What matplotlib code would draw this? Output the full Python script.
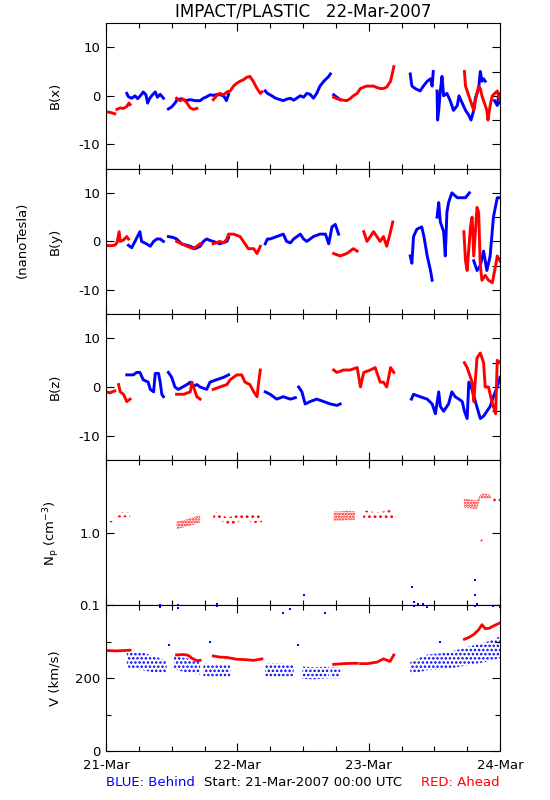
import numpy as np
import matplotlib
matplotlib.use("Agg")
import matplotlib.pyplot as plt
from matplotlib.ticker import FixedLocator, MultipleLocator, NullLocator

plt.rcParams["axes.unicode_minus"] = False
plt.rcParams["mathtext.default"] = "regular"
plt.rcParams["hatch.linewidth"] = 1.2

nan = np.nan
BLUE = "#0000ff"
RED = "#ff0000"

# time axis: hours since 21-Mar-2007 00:00 UTC
day_ticks = [0, 24, 48, 72]
day_labels = ["21-Mar", "22-Mar", "23-Mar", "24-Mar"]

# ---- B(x) ----
bx_blue_t = [3.8, 4.1, 4.7, 5.3, 5.8, 6.5, 6.8, 7.3, 7.6, 8.0, 8.5, 9.0, 9.4, 9.9, 10.5, nan,
             11.4, 12.0, 12.6, 13.0, 13.8, 14.5, 15.4, 16.3, 17.2, 17.8, 18.4, 19.0, 19.6, 20.5, 21.5, 22.0, 22.4, nan,
             29.1, 29.5, 30.0, 31.0, 32.4, 33.0, 33.7, 34.3, 35.5, 36.1, 36.7, 37.3, 37.9, 38.5, 39.1, 39.8, 40.7, 41.0, nan,
             41.6, 42.2, 42.8, nan,
             55.6, 55.9, 56.5, 57.4, 58.0, 58.7, 59.3, 59.6, 59.8, nan,
             60.5, 60.6, 60.8, 61.1, 61.4, 61.7, 62.3, 62.9, 63.5, 64.2, 64.5, 65.1, 65.7, 66.3, 66.7, 67.2, 67.5,
             68.1, 68.4, 68.7, 69.0, 69.3, nan, 71.0, 71.5, 71.8, 72.0]
bx_blue_v = [0.5, -0.2, -0.5, 0.0, -0.6, 0.3, 0.8, 0.2, -1.5, -0.5, 0.2, 0.8, -0.3, 0.3, -0.5, nan,
             -2.7, -2.3, -1.5, -0.8, -0.6, -1.0, -0.8, -1.0, -1.0, -0.5, -0.2, 0.2, 0.1, 0.3, 0.0, -1.0, 0.3, nan,
             1.0, 0.5, 0.2, -0.5, -1.0, -0.7, -0.5, -0.9, 0.0, -0.3, 0.5, 0.3, -0.5, 0.5, 2.0, 3.0, 4.0, 4.5, nan,
             0.2, -0.3, -0.8, nan,
             4.5, 2.0, 1.5, 1.0, 2.0, 3.0, 3.5, 2.0, 5.0, nan,
             1.0, -5.0, -3.0, 1.0, 4.0, 0.0, 0.5, -1.0, -3.0, -2.0, 0.0, -1.5, -3.0, -4.0, -5.0, -3.0, -0.5,
             1.5, 5.0, 3.0, 3.5, 3.0, nan, -1.0, -2.0, 0.5, -1.5]
bx_red_t = [0.0, 0.7, 1.6, nan, 2.0, 2.6, 3.2, 3.8, 4.2, 4.4, nan,
            12.9, 13.5, 14.2, 14.8, 15.4, 16.0, 16.6, nan,
            19.6, 20.2, 20.8, 21.5, 22.1, 22.7, 23.3, 23.9, 24.5, 25.1, 25.7, 26.3, 26.9, 27.6, 28.2, 28.5, nan,
            41.6, 42.2, 42.8, 43.4, 44.0, 44.6, 45.2, 45.9, 46.5, 47.1, 47.7, 48.3, 48.9, 49.5, 50.1, 50.7, 51.3,
            52.0, 52.4, 52.6, nan,
            65.5, 65.7, 66.0, 66.6, 67.2, 67.5, 68.1, 68.4, 68.7, 69.0, 69.6, 69.8, 70.2, 70.6, 71.5, 72.0]
bx_red_v = [-3.3, -3.4, -3.7, nan, -2.8, -2.5, -2.6, -2.2, -1.5, -1.8, nan,
            -0.5, -1.0, -0.7, -1.5, -2.5, -2.8, -2.6, nan,
            -0.8, 0.0, 0.5, 0.2, 0.8, 1.0, 2.0, 2.6, 3.0, 3.3, 3.8, 4.0, 3.0, 1.5, 0.5, 0.8, nan,
            -0.3, -0.6, -0.8, -0.9, -1.0, -0.6, 0.0, 0.5, 1.5, 1.8, 2.0, 2.0, 2.0, 1.7, 1.5, 1.5, 1.8,
            3.0, 5.0, 6.0, nan,
            5.0, 2.0, 1.0, -1.0, -3.0, -1.0, 2.0, 1.5, 0.0, -1.0, -3.0, -5.0, -2.0, 0.0, 1.0, -1.0]

# ---- B(y) ----
by_blue_t = [4.1, 4.7, 5.3, 6.2, 6.5, 7.4, 8.1, 8.7, 9.3, 9.9, 10.5, nan,
             11.4, 12.3, 12.9, 13.8, 15.4, 16.3, 17.2, 17.8, 18.4, 19.0, 19.6, 20.8, 21.5, 22.1, 22.4, nan,
             29.1, 29.5, 30.0, 31.2, 32.4, 33.0, 33.7, 34.3, 35.5, 36.1, 36.7, 37.9, 39.1, 40.1, 40.7, 41.3, 41.9, 42.5, nan,
             55.6, 55.9, 56.2, 56.8, 57.7, 58.1, 58.4, 58.7, 59.3, 59.6, nan,
             60.5, 60.8, 61.1, 61.7, 62.0, 62.3, 62.6, 63.2, 64.2, 65.1, 65.7, 66.4, nan,
             67.2, 67.8, 68.4, 69.0, 69.6, 70.2, 70.8, 71.5, 72.0]
by_blue_v = [-0.8, -1.3, 0.0, 2.0, 0.0, -0.5, -1.0, 0.0, 0.5, 0.5, 0.0, nan,
             1.0, 0.8, 0.5, -0.5, -1.0, -1.5, -1.0, 0.0, 0.5, 0.2, 0.0, -0.5, -0.2, 0.0, 0.8, nan,
             -0.5, 0.5, 0.5, 1.0, 1.5, 0.0, -0.3, 0.5, 1.5, 0.5, 0.0, 1.0, 1.5, 1.5, -0.5, 3.0, 3.5, 1.5, nan,
             -3.0, -4.5, 1.0, 2.5, 3.0, 1.0, -1.0, -3.0, -6.0, -8.0, nan,
             5.0, 8.0, 4.0, 2.0, -3.0, 6.0, 8.0, 10.0, 9.0, 9.0, 9.0, 10.0, nan,
             -4.0, -6.0, -5.0, -2.0, -6.0, -3.0, 5.0, 9.0, 9.0]
by_red_t = [0.0, 0.7, 1.6, 2.0, 2.4, 2.6, 3.2, 3.8, 4.1, nan,
            12.9, 13.8, 14.8, 16.0, 17.2, nan,
            19.6, 20.8, 21.5, 22.1, 22.4, 23.3, 24.5, 25.4, 26.0, 27.0, 27.6, 28.2, nan,
            41.6, 42.8, 44.0, 45.2, 45.9, nan,
            47.1, 47.7, 48.3, 48.9, 50.1, 50.7, 51.3, 52.0, 52.4, nan,
            65.4, 65.7, 66.0, 66.6, 66.9, 67.2, 67.8, 68.1, 68.4, 68.7, 69.3, 69.9, 70.6, 71.2, 71.5, 72.0]
by_red_v = [-0.8, -0.9, -0.8, -0.3, 2.0, 0.0, 0.3, 1.0, 0.5, nan,
            0.0, -0.5, -1.0, -1.5, -0.5, nan,
            -0.5, 0.0, -0.3, 0.5, 1.5, 1.5, 1.0, -0.5, -1.5, -1.5, -2.5, -1.0, nan,
            -2.5, -3.0, -2.5, -1.5, -2.0, nan,
            2.0, 0.0, 1.0, 2.0, 0.0, 1.0, -1.0, 2.0, 4.0, nan,
            2.0, -4.0, -6.0, 3.0, 5.0, -3.0, 7.0, 6.0, -5.0, -8.0, -7.0, -8.0, -8.5, -5.0, -3.0, -4.0]

# ---- B(z) ----
bz_blue_t = [3.8, 5.0, 5.6, 6.2, 6.8, 7.7, 8.1, 8.7, 9.0, 9.6, 9.9, 10.2, 10.5, nan,
             11.4, 12.0, 12.6, 13.2, 14.8, 15.4, 15.7, 16.6, 17.2, 18.4, 19.0, 20.2, 21.5, 22.4, nan,
             29.1, 30.0, 30.6, 31.2, 32.4, 33.7, 34.6, nan,
             35.2, 35.8, 36.4, 37.3, 38.5, 39.8, 41.0, 42.2, 42.8, nan,
             55.8, 56.2, 57.4, 58.7, 59.6, 60.2, 60.8, 61.1, 61.7, 62.6, 63.2, 63.8, 64.5, 65.1, 65.5,
             66.0, 66.3, 66.9, 67.5, 68.4, 69.0, 69.6, 70.2, 70.8, 71.5, 72.0]
bz_blue_v = [2.5, 2.5, 3.0, 3.0, 1.5, 1.0, -0.5, -1.0, 2.8, 2.8, 1.0, -1.5, -2.0, nan,
             3.0, 2.0, 0.0, -0.5, 0.5, 1.0, 0.0, 0.5, 0.0, -0.5, 1.0, 1.5, 2.0, 2.5, nan,
             -1.0, -1.5, -2.0, -2.5, -2.0, -2.5, -2.2, nan,
             0.0, -1.0, -3.5, -3.0, -2.5, -3.0, -3.5, -3.8, -3.5, nan,
             -2.5, -1.5, -2.0, -2.5, -3.5, -5.5, -1.0, -4.0, -5.0, -3.5, -1.0, -2.0, -2.5, -3.0, -5.0,
             -6.5, 1.0, -0.5, -3.0, -6.5, -6.0, -5.0, -4.0, -2.0, 0.0, 2.0]
bz_red_t = [0.0, 0.7, 1.6, nan, 2.3, 2.6, 3.2, 3.8, 4.4, nan,
            12.9, 14.2, 15.4, 15.7, 16.6, 17.2, nan,
            19.6, 20.8, 22.1, 22.7, 23.9, 24.8, 25.4, 26.3, 27.0, 27.6, 27.9, 28.2, nan,
            41.6, 42.2, 43.4, 44.6, 45.9, 46.5, 47.1, 48.3, 49.2, 50.1, 50.7, 51.3, 52.0, 52.6, nan,
            65.5, 66.0, 66.3, 66.9, 67.2, 67.8, 68.4, 69.0, 69.3, 69.9, 70.5, 71.2, 71.5, 72.0]
bz_red_v = [-1.0, -1.2, -0.8, nan, 0.5, -1.0, -1.5, -3.0, -2.5, nan,
            -1.5, -1.5, -1.0, 1.0, -2.0, -2.5, nan,
            -0.5, 0.0, 0.5, 1.5, 2.5, 2.5, 1.0, 0.5, -1.0, -2.0, 1.0, 3.5, nan,
            3.5, 3.0, 3.5, 3.5, 4.0, 0.0, 3.0, 3.5, 4.0, 1.0, 1.0, 0.0, 4.0, 3.0, nan,
            5.0, 4.0, 3.0, 1.0, -3.0, 6.0, 7.0, 5.0, 0.0, 0.0, -3.0, -5.5, 5.5, 5.0]

# ---- proton density (Ahead): dense and sparse scatter clusters as envelopes ----
np_dense_t = [12.9, 14.2, 15.4, 16.6, 17.2, nan,
              41.6, 42.8, 44.0, 45.5, nan,
              65.4, 66.6, 67.8, 68.4, 69.0, 70.3]
np_dense_lo = [1.12, 1.18, 1.25, 1.32, 1.38, nan,
               1.45, 1.45, 1.48, 1.50, nan,
               2.20, 2.15, 2.10, 2.90, 2.95, 2.95]
np_dense_hi = [1.42, 1.48, 1.58, 1.68, 1.72, nan,
               1.95, 1.95, 2.00, 1.95, nan,
               2.90, 2.85, 2.75, 3.30, 3.45, 3.30]
np_sparse_t = [0.0, 0.8, 1.6, nan, 2.0, 3.2, 4.4, nan,
               19.6, 20.8, 22.1, 23.3, 24.5, 25.7, 27.0, 28.5, nan,
               47.0, 48.3, 49.5, 50.7, 51.9, 52.6, nan,
               70.8, 72.0]
np_sparse_lo = [1.35, 1.38, 1.40, nan, 1.62, 1.62, 1.65, nan,
                1.62, 1.50, 1.30, 1.30, 1.45, 1.50, 1.35, 1.40, nan,
                1.58, 1.50, 1.55, 1.52, 1.55, 1.45, nan,
                2.60, 2.65]
np_sparse_hi = [1.50, 1.55, 1.60, nan, 1.90, 1.92, 1.90, nan,
                1.95, 1.85, 1.60, 1.70, 1.80, 1.85, 1.78, 1.70, nan,
                2.05, 1.95, 1.90, 1.95, 2.05, 1.80, nan,
                3.15, 3.10]
np_out_t = [68.6]
np_out_v = [0.8]
np_blue_t = [9.9, 13.2, 20.3, 36.1, 56.0, 56.3, 57.0, 58.0, 67.4, 67.5, 67.8]
np_blue_v = [0.101, 0.102, 0.105, 0.14, 0.18, 0.11, 0.105, 0.105, 0.14, 0.22, 0.105]

# ---- bulk speed ----
v_red_t = [0.0, 2.0, 4.4, nan,
           12.9, 14.2, 15.0, 15.7, 16.6, 17.2, nan,
           19.6, 20.8, 22.1, 23.9, 25.4, 27.0, 28.5, nan,
           41.6, 43.4, 45.2, 45.9, nan, 46.5, 47.7, 49.5, 50.7, 51.9, 52.6, nan,
           65.5, 66.3, 67.2, 68.1, 68.7, 69.3, 70.0, 71.0, 72.0]
v_red_v = [276, 275, 277, nan,
           264, 265, 263, 255, 248, 249, nan,
           261, 258, 257, 252, 251, 249, 253, nan,
           238, 240, 241, 241, nan, 240, 240, 244, 253, 246, 264, nan,
           307, 312, 320, 333, 347, 336, 337, 345, 352]
v_blue_t = [3.8, 6.8, 9.9, 11.1, nan,
            12.4, 14.8, 17.2, nan,
            17.8, 20.0, 22.7, nan,
            29.1, 31.5, 34.3, nan,
            35.9, 38.0, 40.7, nan,
            41.0, 42.8, nan,
            55.6, 58.7, 62.3, 65.9, 69.6, 72.0]
v_blue_lo = [230, 222, 212, 215, nan,
             225, 215, 210, nan,
             205, 204, 203, nan,
             205, 203, 205, nan,
             198, 197, 200, nan,
             200, 200, nan,
             210, 222, 225, 235, 245, 255]
v_blue_hi = [275, 270, 255, 245, nan,
             260, 255, 245, nan,
             240, 238, 238, nan,
             240, 240, 238, nan,
             232, 230, 232, nan,
             230, 228, nan,
             245, 265, 270, 285, 300, 315]
v_out_t = [9.9, 13.1, 20.2, 32.4, 33.7, 40.1, 56.2, 58.7, 67.5, 70.8, 72.0, 11.6, 19.0, 35.0, 61.0]
v_out_v = [396, 394, 398, 380, 390, 378, 397, 395, 398, 398, 395, 292, 300, 290, 300]

# ---------------------------------------------------------------------------
fig = plt.figure(figsize=(5.5, 8), dpi=100)
W, H = 550.0, 800.0
left, right = 106, 500
top, bottom = 23, 751
ph = (bottom - top) / 5.0
axes = []
for i in range(5):
    y0 = top + ph * (i + 1)
    ax = fig.add_axes([left / W, 1 - y0 / H, (right - left) / W, ph / H])
    axes.append(ax)

for ax in axes:
    ax.set_xlim(0, 72)
    ax.xaxis.set_major_locator(FixedLocator(day_ticks))
    ax.xaxis.set_minor_locator(MultipleLocator(6))
    ax.tick_params(axis="both", which="both", direction="in", top=True, right=True,
                   width=0.8, labelsize=9.5, pad=4)
    ax.tick_params(which="major", length=5.8)
    ax.tick_params(which="minor", length=3.4)
    ax.tick_params(axis="x", labelbottom=False)
    for s in ax.spines.values():
        s.set_linewidth(0.8)

lw = 2.1
b_sets = [(bx_blue_t, bx_blue_v, bx_red_t, bx_red_v, "B(x)"),
          (by_blue_t, by_blue_v, by_red_t, by_red_v, "B(y)"),
          (bz_blue_t, bz_blue_v, bz_red_t, bz_red_v, "B(z)")]
for ax, (bt, bv, rt, rv, lab) in zip(axes[:3], b_sets):
    ax.plot(bt, bv, color=BLUE, lw=lw)
    ax.plot(rt, rv, color=RED, lw=lw)
    ax.set_ylim(-15, 15)
    ax.yaxis.set_major_locator(FixedLocator([-10, 0, 10]))
    ax.yaxis.set_minor_locator(FixedLocator([-5, 5]))
    ax.tick_params(axis="y", which="minor", left=False, length=5.8)
    ax.set_ylabel(lab, fontsize=9.5)
    ax.yaxis.set_label_coords(-0.112, 0.5)

# density panel
ax = axes[3]
ax.set_yscale("log")
ax.set_ylim(0.1, 10)
ax.fill_between(np_dense_t, np_dense_lo, np_dense_hi, facecolor="none", edgecolor=RED,
                hatch="......", linewidth=0)
ax.fill_between(np_sparse_t, np_sparse_lo, np_sparse_hi, facecolor="none", edgecolor=RED,
                hatch="...", linewidth=0)
ax.plot(np_out_t, np_out_v, "s", color=RED, ms=1.2, mew=0)
ax.plot(np_blue_t, np_blue_v, "s", color=BLUE, ms=1.5, mew=0)
ax.yaxis.set_major_locator(FixedLocator([0.1, 1.0]))
ax.yaxis.set_minor_locator(NullLocator())
ax.set_yticklabels(["0.1", "1.0"])
ax.set_ylabel("N$_p$ (cm$^{-3}$)", fontsize=9.5)
ax.yaxis.set_label_coords(-0.112, 0.5)

# speed panel
ax = axes[4]
ax.set_ylim(0, 400)
ax.fill_between(v_blue_t, v_blue_lo, v_blue_hi, facecolor="none", edgecolor=BLUE,
                hatch="....", linewidth=0)
ax.plot(v_out_t, v_out_v, "s", color=BLUE, ms=1.5, mew=0)
ax.plot(v_red_t, v_red_v, color=RED, lw=2.0)
ax.yaxis.set_major_locator(FixedLocator([0, 200, 400]))
ax.yaxis.set_minor_locator(FixedLocator([100, 300]))
ax.set_yticklabels(["0", "200", ""])
ax.set_ylabel("V (km/s)", fontsize=9.5)
ax.yaxis.set_label_coords(-0.112, 0.5)
ax.tick_params(axis="x", labelbottom=True, pad=6)
ax.set_xticklabels(day_labels)

fig.text(303 / W, 1 - 12 / H, "IMPACT/PLASTIC   22-Mar-2007", ha="center", va="center", fontsize=12)
fig.text(22 / W, 1 - 240 / H, "(nanoTesla)", ha="center", va="center", rotation=90, fontsize=9.5)
fig.text(106 / W, 1 - 783 / H, "BLUE: Behind", ha="left", va="center", fontsize=9.5, color=BLUE)
fig.text(303 / W, 1 - 783 / H, "Start: 21-Mar-2007 00:00 UTC", ha="center", va="center", fontsize=9.5)
fig.text(500 / W, 1 - 783 / H, "RED: Ahead", ha="right", va="center", fontsize=9.5, color=RED)

fig.savefig("out.png", dpi=100)
